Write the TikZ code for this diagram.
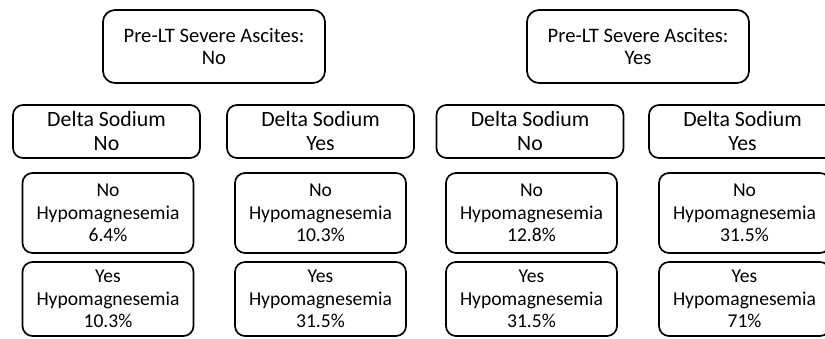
\documentclass[tikz,border=0pt]{standalone}
\usepackage{fontspec}
\setmainfont{Carlito}
\usepackage{tikz}
\usetikzlibrary{positioning}

\begin{document}
\begin{tikzpicture}[
  x=1pt, y=-1pt,
  box/.style={draw, line width=1.7pt, rounded corners=10pt, align=center,
              inner sep=0pt},
  group/.style={box, font=\fontsize{20.6}{22}\selectfont,
                minimum width=222pt, minimum height=73pt, rounded corners=12pt},
  split/.style={box, font=\fontsize{21.8}{24}\selectfont,
                minimum width=187pt, minimum height=53pt},
  leaf/.style={box, font=\fontsize{19.6}{22.5}\selectfont,
               minimum width=171pt, minimum height=80pt},
  leafy/.style={leaf, minimum height=74pt},
]
\clip (0,0) rectangle (825,339);

% --- Top level: ascites ---
\node[group] (asc_no) at (214,46.5) {Pre-LT Severe Ascites:\\No};
\node[group] (asc_yes) at (638,46.5) {Pre-LT Severe Ascites:\\Yes};

% --- Second level: delta sodium ---
\node[split] (na_no_a) at (106.5,131.5) {Delta Sodium\\No};
\node[split] (na_yes_a) at (320.5,131.5) {Delta Sodium\\Yes};
\node[split] (na_no_b) at (530,131.5) {Delta Sodium\\No};
\node[split] (na_yes_b) at (742.5,131.5) {Delta Sodium\\Yes};

% --- Leaves: no hypomagnesemia ---
\node[leaf] (mg_no_1) at (108,213) {No\\Hypomagnesemia\\6.4\%};
\node[leaf] (mg_no_2) at (320.5,213) {No\\Hypomagnesemia\\10.3\%};
\node[leaf] (mg_no_3) at (531.5,213) {No\\Hypomagnesemia\\12.8\%};
\node[leaf] (mg_no_4) at (744.5,213) {No\\Hypomagnesemia\\31.5\%};

% --- Leaves: hypomagnesemia ---
\node[leafy] (mg_yes_1) at (108,299) {Yes\\Hypomagnesemia\\10.3\%};
\node[leafy] (mg_yes_2) at (320.5,299) {Yes\\Hypomagnesemia\\31.5\%};
\node[leafy] (mg_yes_3) at (531.5,299) {Yes\\Hypomagnesemia\\31.5\%};
\node[leafy] (mg_yes_4) at (744.5,299) {Yes\\Hypomagnesemia\\71\%};

\end{tikzpicture}
\end{document}
